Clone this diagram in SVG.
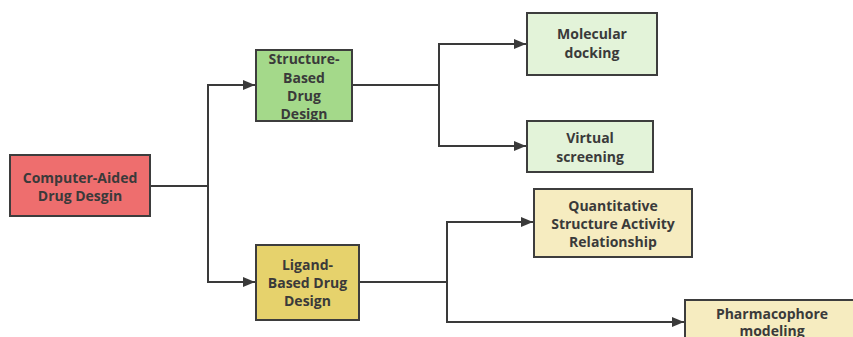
<svg xmlns="http://www.w3.org/2000/svg" width="853" height="337" viewBox="0 0 853 337">
  <defs>
    <marker id="arrow" viewBox="0 0 12 10" refX="12" refY="5" markerWidth="12" markerHeight="10" markerUnits="userSpaceOnUse" orient="auto">
      <path d="M0,0 L12,5 L0,10 Z" fill="#3a3a3a"/>
    </marker>
    <style>
      .box { stroke: #3d3d3d; stroke-width: 2; }
      .root { fill: #ee6e6e; }
      .sbdd { fill: #a4d98a; }
      .lbdd { fill: #e6d26c; }
      .leafg { fill: #e3f3d9; }
      .leafy { fill: #f6ecc0; }
      .lbl { font-family: "Open Sans", "Noto Sans", sans-serif; font-weight: bold; font-size: 14px; fill: #3a3a3a; text-anchor: middle; }
      .edge { fill: none; stroke: #3a3a3a; stroke-width: 2; }
    </style>
  </defs>
  <rect width="853" height="337" fill="#ffffff"/>

  <g id="connectors">
    <path class="edge" d="M150,186 H208 V85 H255" marker-end="url(#arrow)"/>
    <path class="edge" d="M208,186 V282 H255" marker-end="url(#arrow)"/>
    <path class="edge" d="M352,85 H439 V44 H526" marker-end="url(#arrow)"/>
    <path class="edge" d="M439,85 V146 H526" marker-end="url(#arrow)"/>
    <path class="edge" d="M359,282 H447 V222 H533" marker-end="url(#arrow)"/>
    <path class="edge" d="M447,282 V322 H684" marker-end="url(#arrow)"/>
  </g>

  <g id="cadd">
    <rect class="box root" x="10" y="155" width="140" height="61"/>
    <text class="lbl" x="80" y="182.5">Computer-Aided</text>
    <text class="lbl" x="80" y="200.5">Drug Desgin</text>
  </g>

  <g id="sbdd">
    <rect class="box sbdd" x="256" y="50" width="96" height="71"/>
    <text class="lbl" x="304" y="64">Structure-</text>
    <text class="lbl" x="304" y="82.5">Based</text>
    <text class="lbl" x="304" y="101">Drug</text>
    <text class="lbl" x="304" y="118.5">Design</text>
  </g>

  <g id="lbdd">
    <rect class="box lbdd" x="256" y="245" width="103" height="75"/>
    <text class="lbl" x="307.5" y="270">Ligand-</text>
    <text class="lbl" x="307.5" y="288">Based Drug</text>
    <text class="lbl" x="307.5" y="306">Design</text>
  </g>

  <g id="docking">
    <rect class="box leafg" x="527" y="13" width="130" height="62"/>
    <text class="lbl" x="592" y="39">Molecular</text>
    <text class="lbl" x="592" y="58">docking</text>
  </g>

  <g id="screening">
    <rect class="box leafg" x="527" y="121" width="126" height="51"/>
    <text class="lbl" x="590" y="143">Virtual</text>
    <text class="lbl" x="590" y="161.5">screening</text>
  </g>

  <g id="qsar">
    <rect class="box leafy" x="534" y="189" width="158" height="68"/>
    <text class="lbl" x="613" y="211">Quantitative</text>
    <text class="lbl" x="613" y="228.5">Structure Activity</text>
    <text class="lbl" x="613" y="246.5">Relationship</text>
  </g>

  <g id="pharmacophore">
    <rect class="box leafy" x="685" y="300" width="175" height="50"/>
    <text class="lbl" x="772" y="318.5">Pharmacophore</text>
    <text class="lbl" x="772" y="336">modeling</text>
  </g>
</svg>
